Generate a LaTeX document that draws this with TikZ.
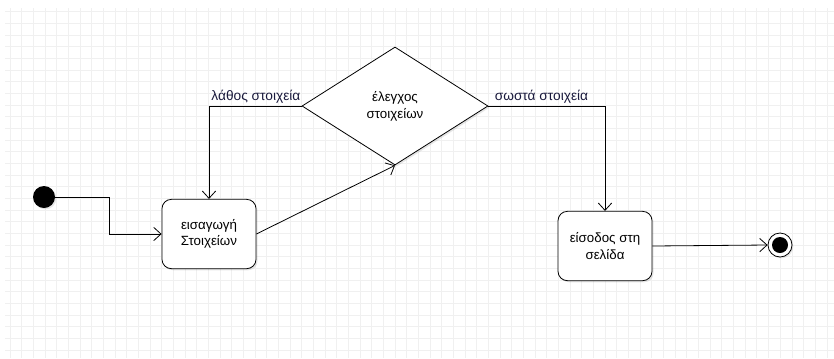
\documentclass[tikz,border=0pt]{standalone}
\usepackage{fontspec}
\setmainfont{Liberation Sans}
\usetikzlibrary{shapes.geometric,arrows.meta,shadows}

\definecolor{griglia}{RGB}{240,240,240}
\definecolor{etichetta}{RGB}{25,25,60}

\tikzset{
    freccia/.style={draw=black, line width=0.6pt, -{Straight Barb[length=5.5pt,width=10pt]}},
    azione/.style={draw=black, fill=white, rounded corners=7pt, line width=0.6pt,
        minimum width=70.5pt, minimum height=52pt, align=center, font=\fontsize{10}{12.5}\selectfont,
        drop shadow={opacity=0.2, shadow xshift=1.2pt, shadow yshift=-1.2pt}},
    decisione/.style={diamond, draw=black, fill=white, line width=0.6pt, inner sep=0pt,
        minimum width=139.5pt, minimum height=88.5pt, align=center, font=\fontsize{10}{12.5}\selectfont,
        drop shadow={opacity=0.2, shadow xshift=1.2pt, shadow yshift=-1.2pt}},
    etichettafreccia/.style={text=etichetta, font=\fontsize{10.3}{12}\selectfont, inner sep=1.5pt}
}

\begin{document}
\begin{tikzpicture}[x=0.75pt, y=-0.75pt]
    \useasboundingbox (0,0) rectangle (834,358);

    % Griglia
    \foreach \gx in {0,...,70}
        \draw[griglia, line width=0.6pt] (10+11.67*\gx,8) -- (10+11.67*\gx,358);
    \foreach \gy in {0,...,30}
        \draw[griglia, line width=0.6pt] (5,11.7+11.67*\gy) -- (834,11.7+11.67*\gy);

    % Stati
    \node[circle, fill=black, minimum size=16.5pt, inner sep=0pt,
          drop shadow={opacity=0.2, shadow xshift=1pt, shadow yshift=-1pt}] (inizio) at (44,197) {};
    \node[azione] (inserisci) at (209,234) {εισαγωγή\\ Στοιχείων};
    \node[decisione] (controllo) at (395,106) {\raisebox{-4pt}{\shortstack{έλεγχος\\ στοιχείων}}};
    \node[azione] (esito) at (605,246) {είσοδος στη\\ σελίδα};
    \node[circle, draw=black, fill=white, line width=0.6pt, minimum size=18pt, inner sep=0pt,
          drop shadow={opacity=0.2, shadow xshift=1pt, shadow yshift=-1pt}] (fine) at (780,245) {};
    \node[circle, fill=black, minimum size=12pt, inner sep=0pt] (finepunto) at (fine) {};

    % Transizioni
    \draw[freccia] (inizio.east) -- ++(54,0) |- (inserisci.west);
    \draw[freccia] (controllo.west) -| (inserisci.north)
        node[etichettafreccia, pos=0.5, anchor=south west] {λάθος στοιχεία};
    \draw[freccia] (inserisci.east) -- (controllo.south);
    \draw[freccia] (controllo.east) -| (esito.north)
        node[etichettafreccia, pos=0, anchor=south west, xshift=3pt] {σωστά στοιχεία};
    \draw[freccia] (esito.east) -- (fine.west);

\end{tikzpicture}
\end{document}
